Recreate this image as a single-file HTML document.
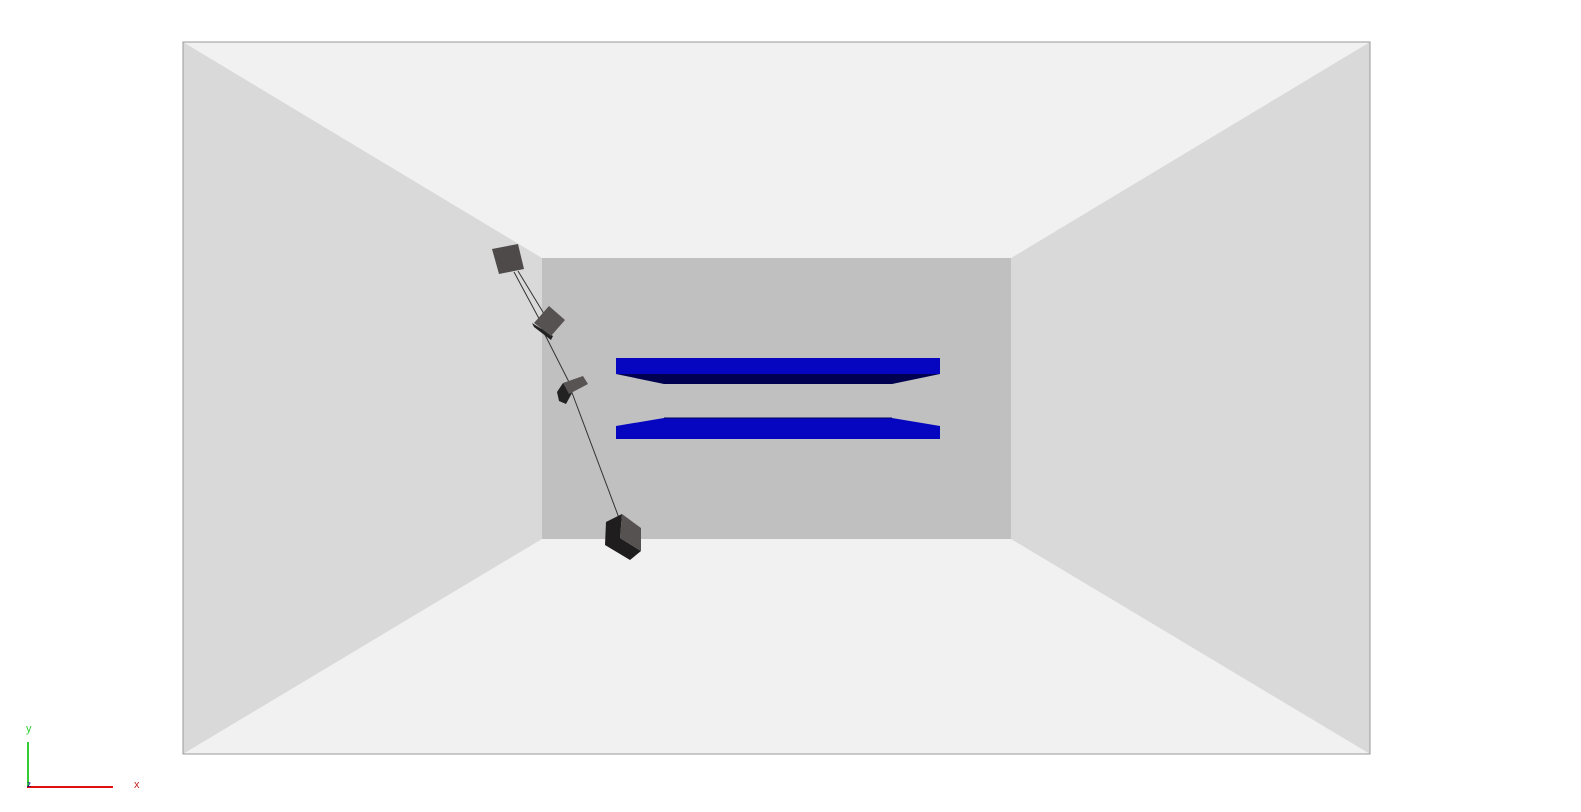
<!DOCTYPE html>
<html><head><meta charset="utf-8"><style>body{margin:0;background:#fff}svg{display:block}</style></head>
<body>
<svg width="1581" height="812" viewBox="0 0 1581 812" style="font-family:'Liberation Sans',sans-serif">
<g>
<polygon points="183,42 1370,42 1011,258 542,258" fill="#f1f1f1"/>
<polygon points="183,754 1370,754 1011,539 542,539" fill="#f1f1f1"/>
<polygon points="183,42 542,258 542,539 183,754" fill="#d9d9d9"/>
<polygon points="1370,42 1011,258 1011,539 1370,754" fill="#d9d9d9"/>
<rect x="542" y="258" width="469" height="281" fill="#c0c0c0"/>
<rect x="183" y="42" width="1187" height="712" fill="none" stroke="#999" stroke-width="1"/>
</g>
<g>
<polygon points="616,374 940,374 892,384 664,384" fill="#000050"/>
<rect x="616" y="358" width="324" height="16" fill="#0606c0"/>
<polygon points="616,426 664,418 892,418 940,426 940,439 616,439" fill="#0606c0"/>
<line x1="664" y1="418" x2="892" y2="418" stroke="#000060" stroke-width="1"/>
</g>
<g>
<line x1="514" y1="272" x2="543" y2="326" stroke="#333" stroke-width="1"/>
<line x1="518" y1="271" x2="549" y2="322" stroke="#333" stroke-width="1"/>
<line x1="540" y1="325" x2="571" y2="386" stroke="#333" stroke-width="1"/>
<line x1="571" y1="390" x2="619" y2="518" stroke="#333" stroke-width="1"/>
<polygon points="492,249 518,244 524,269 499,274" fill="#4e4a4a"/>
<polygon points="532,323 534,327 551,340 553,336" fill="#222"/>
<polygon points="534,323 549,306 565,320 551,336" fill="#575252"/>
<polygon points="557,392 563,383 572,393 566,404 559,401" fill="#222"/>
<polygon points="563,383 583,376 588,384 569,394" fill="#595454"/>
<polygon points="606,522 622,514 620,538 641,551 630,560 605,545" fill="#1f1d1d"/>
<polygon points="622,514 641,528 641,551 620,538" fill="#575252"/>
</g>
<g>
<line x1="28" y1="787" x2="28" y2="742" stroke="#33cc33" stroke-width="2"/>
<line x1="27" y1="787" x2="113" y2="787" stroke="#dd1111" stroke-width="2"/>
<text x="26" y="732" font-size="11" fill="#33cc33">y</text>
<text x="134" y="788" font-size="11" fill="#cc2222">x</text>
<text x="27" y="787" font-size="8" fill="#000088">z</text>
</g>
</svg>
</body></html>
